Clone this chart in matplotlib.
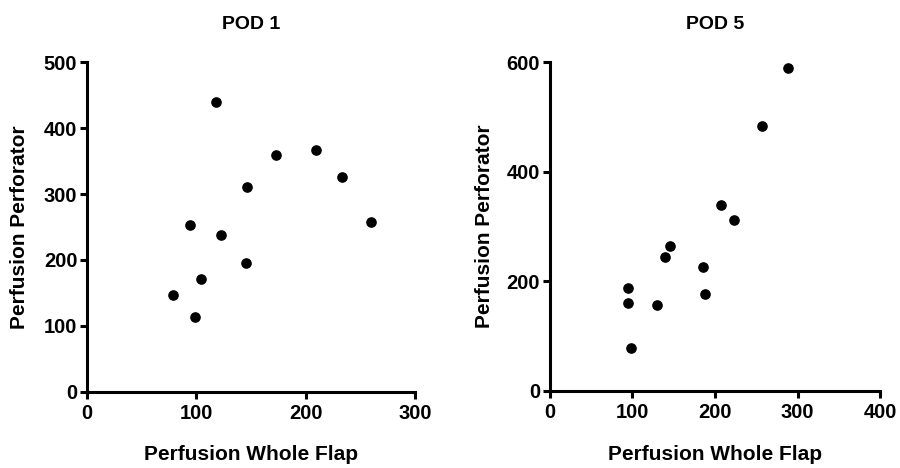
import numpy as np
import matplotlib
matplotlib.use("Agg")
import matplotlib.pyplot as plt

plt.rcParams['font.family'] = ['Liberation Sans', 'DejaVu Sans']
plt.rcParams['font.weight'] = 'bold'

# POD 1 data
pod1_whole = [118, 173, 209, 233, 146, 94, 123, 260, 145, 104, 79, 99]
pod1_perf = [440, 359, 367, 326, 310, 253, 238, 257, 195, 171, 147, 113]

# POD 5 data
pod5_whole = [288, 257, 207, 223, 146, 139, 186, 94, 94, 130, 188, 98]
pod5_perf = [590, 483, 340, 311, 264, 245, 226, 187, 160, 156, 177, 79]

pod1_xticks = [0, 100, 200, 300]
pod1_yticks = [0, 100, 200, 300, 400, 500]
pod5_xticks = [0, 100, 200, 300, 400]
pod5_yticks = [0, 200, 400, 600]


def style_axis(ax, title, xticks, yticks, ypad):
    ax.set_xlim(xticks[0], xticks[-1])
    ax.set_ylim(yticks[0], yticks[-1])
    ax.set_xticks(xticks)
    ax.set_yticks(yticks)
    ax.spines['top'].set_visible(False)
    ax.spines['right'].set_visible(False)
    for s in ['left', 'bottom']:
        ax.spines[s].set_linewidth(2.2)
    ax.tick_params(direction='out', length=5, width=2.2, labelsize=14.5, pad=2)
    ax.tick_params(axis='x', pad=4)
    for lab in ax.get_xticklabels() + ax.get_yticklabels():
        lab.set_fontweight('bold')
    ax.set_title(title, fontsize=14, fontweight='bold', pad=24)
    ax.set_xlabel("Perfusion Whole Flap", fontsize=15, fontweight='bold', labelpad=16)
    ax.set_ylabel("Perfusion Perforator", fontsize=15, fontweight='bold', labelpad=ypad)


fig = plt.figure(figsize=(9, 4.68), dpi=100)
ax1 = fig.add_axes([0.0967, 0.163, 0.3644, 0.704])
ax2 = fig.add_axes([0.611, 0.165, 0.367, 0.702])

ax1.scatter(pod1_whole, pod1_perf, s=44, color='black', clip_on=False, zorder=3)
style_axis(ax1, "POD 1", pod1_xticks, pod1_yticks, 11)

ax2.scatter(pod5_whole, pod5_perf, s=44, color='black', clip_on=False, zorder=3)
style_axis(ax2, "POD 5", pod5_xticks, pod5_yticks, 9)

fig.savefig("out.png", dpi=100)
